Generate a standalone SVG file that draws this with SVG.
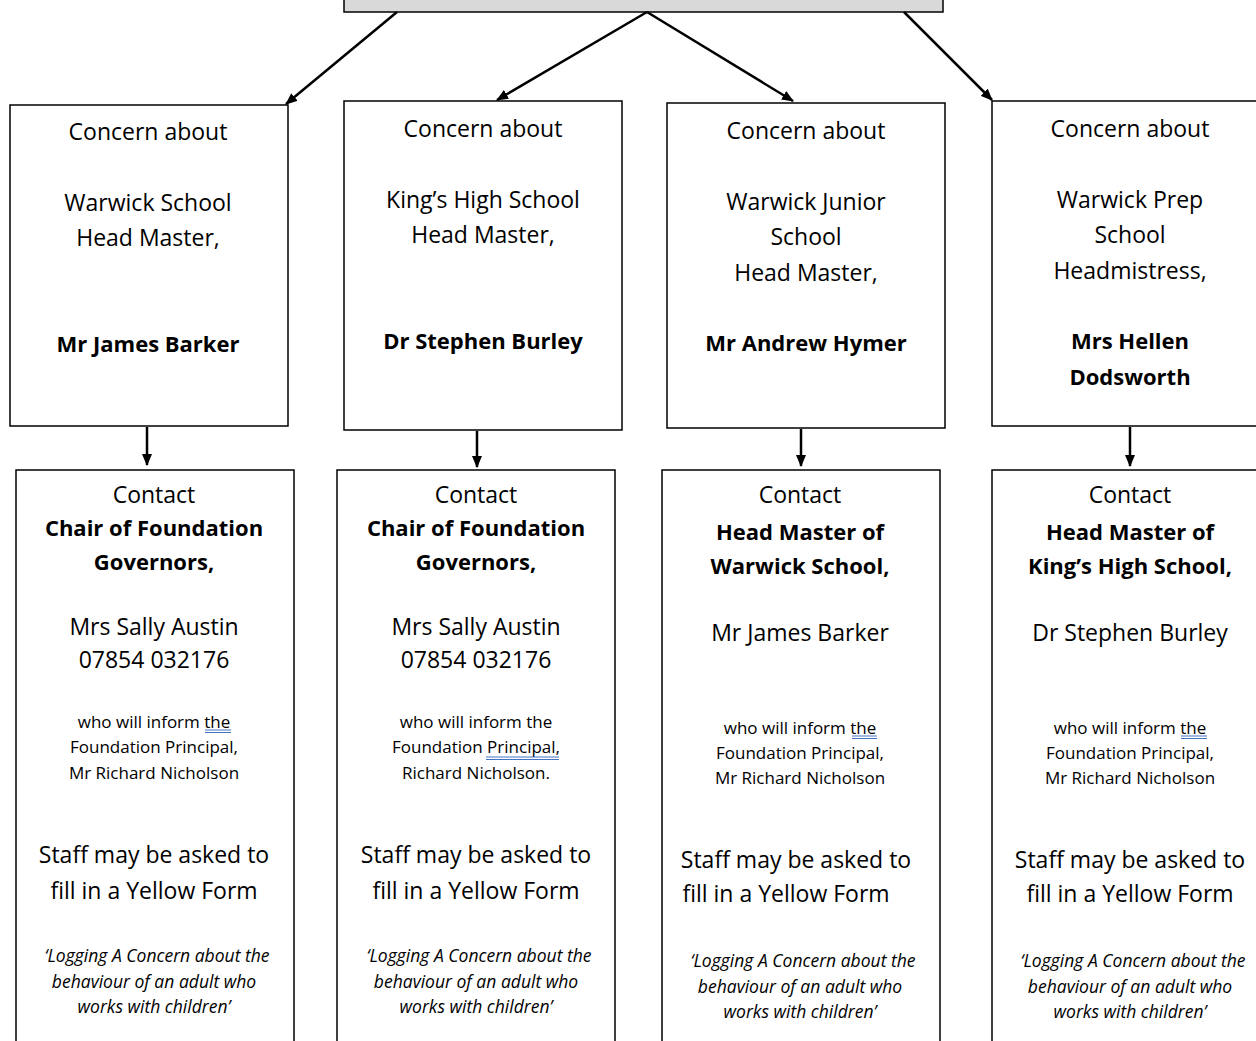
<svg xmlns="http://www.w3.org/2000/svg" width="1256" height="1041" viewBox="0 0 1256 1041">
<defs>
<marker id="ah" viewBox="0 0 12 10" refX="11" refY="5" markerWidth="12" markerHeight="10" markerUnits="userSpaceOnUse" orient="auto">
<path d="M0,0 L12,5 L0,10 z" fill="#000"/>
</marker>
<style>
.box{fill:#fff;stroke:#000;stroke-width:1.5}
.top{fill:#d9d9d9;stroke:#000;stroke-width:1.5}
.conn line{stroke:#000;stroke-width:2.5;marker-end:url(#ah)}
text{font-family:"Open Sans","Noto Sans",sans-serif;fill:#000;text-anchor:middle}
.m{font-size:23px}
.b{font-size:22px;font-weight:bold}
.s{font-size:17px}
.i{font-size:17.5px;font-style:italic}
.sq{stroke:#4472c4;stroke-width:1}
</style>
</defs>
<rect width="1256" height="1041" fill="#fff"/>
<g id="top"><rect class="top" x="344" y="-5" width="599" height="17"/></g>

<g id="c1"><rect class="box" x="10" y="105" width="278" height="321"/>
<text class="m" x="148" y="140">Concern about</text>
<text class="m" x="148" y="211">Warwick School</text>
<text class="m" x="148" y="246">Head Master,</text>
<text class="b" x="148" y="352">Mr James Barker</text></g>

<g id="c2"><rect class="box" x="344" y="101" width="278" height="329"/>
<text class="m" x="483" y="137">Concern about</text>
<text class="m" x="483" y="208">King’s High School</text>
<text class="m" x="483" y="243">Head Master,</text>
<text class="b" x="483" y="349">Dr Stephen Burley</text></g>

<g id="c3"><rect class="box" x="667" y="103" width="278" height="325"/>
<text class="m" x="806" y="139">Concern about</text>
<text class="m" x="806" y="210">Warwick Junior</text>
<text class="m" x="806" y="245">School</text>
<text class="m" x="806" y="281">Head Master,</text>
<text class="b" x="806" y="351">Mr Andrew Hymer</text></g>

<g id="c4"><rect class="box" x="992" y="101" width="278" height="325"/>
<text class="m" x="1130" y="137">Concern about</text>
<text class="m" x="1130" y="208">Warwick Prep</text>
<text class="m" x="1130" y="243">School</text>
<text class="m" x="1130" y="279">Headmistress,</text>
<text class="b" x="1130" y="349">Mrs Hellen</text>
<text class="b" x="1130" y="385">Dodsworth</text></g>

<g id="k1"><rect class="box" x="16" y="470" width="278" height="580"/>
<text class="m" x="154" y="503">Contact</text>
<text class="b" x="154" y="536">Chair of Foundation</text>
<text class="b" x="154" y="570">Governors,</text>
<text class="m" x="154" y="635">Mrs Sally Austin</text>
<text class="m" x="154" y="668">07854 032176</text>
<text class="s" x="154" y="728">who will inform the</text>
<text class="s" x="154" y="753">Foundation Principal,</text>
<text class="s" x="154" y="779">Mr Richard Nicholson</text>
<text class="m" x="154" y="863">Staff may be asked to</text>
<text class="m" x="154" y="899">fill in a Yellow Form</text>
<text class="i" x="157" y="962">‘Logging A Concern about the</text>
<text class="i" x="154" y="988">behaviour of an adult who</text>
<text class="i" x="154" y="1013">works with children’</text>
<line class="sq" x1="205" y1="730" x2="231" y2="730"/><line class="sq" x1="205" y1="732.5" x2="231" y2="732.5"/></g>

<g id="k2"><rect class="box" x="337" y="470" width="278" height="580"/>
<text class="m" x="476" y="503">Contact</text>
<text class="b" x="476" y="536">Chair of Foundation</text>
<text class="b" x="476" y="570">Governors,</text>
<text class="m" x="476" y="635">Mrs Sally Austin</text>
<text class="m" x="476" y="668">07854 032176</text>
<text class="s" x="476" y="728">who will inform the</text>
<text class="s" x="476" y="753">Foundation Principal,</text>
<text class="s" x="476" y="779">Richard Nicholson.</text>
<text class="m" x="476" y="863">Staff may be asked to</text>
<text class="m" x="476" y="899">fill in a Yellow Form</text>
<text class="i" x="479" y="962">‘Logging A Concern about the</text>
<text class="i" x="476" y="988">behaviour of an adult who</text>
<text class="i" x="476" y="1013">works with children’</text>
<line class="sq" x1="486" y1="757" x2="559" y2="757"/><line class="sq" x1="486" y1="759.5" x2="559" y2="759.5"/></g>

<g id="k3"><rect class="box" x="662" y="470" width="278" height="580"/>
<text class="m" x="800" y="503">Contact</text>
<text class="b" x="800" y="540">Head Master of</text>
<text class="b" x="800" y="574">Warwick School,</text>
<text class="m" x="800" y="641">Mr James Barker</text>
<text class="s" x="800" y="734">who will inform the</text>
<text class="s" x="800" y="759">Foundation Principal,</text>
<text class="s" x="800" y="784">Mr Richard Nicholson</text>
<text class="m" x="796" y="868">Staff may be asked to</text>
<text class="m" x="786" y="902">fill in a Yellow Form</text>
<text class="i" x="803" y="967">‘Logging A Concern about the</text>
<text class="i" x="800" y="993">behaviour of an adult who</text>
<text class="i" x="800" y="1018">works with children’</text>
<line class="sq" x1="852" y1="736" x2="877" y2="736"/><line class="sq" x1="852" y1="738.5" x2="877" y2="738.5"/></g>

<g id="k4"><rect class="box" x="992" y="470" width="278" height="580"/>
<text class="m" x="1130" y="503">Contact</text>
<text class="b" x="1130" y="540">Head Master of</text>
<text class="b" x="1130" y="574">King’s High School,</text>
<text class="m" x="1130" y="641">Dr Stephen Burley</text>
<text class="s" x="1130" y="734">who will inform the</text>
<text class="s" x="1130" y="759">Foundation Principal,</text>
<text class="s" x="1130" y="784">Mr Richard Nicholson</text>
<text class="m" x="1130" y="868">Staff may be asked to</text>
<text class="m" x="1130" y="902">fill in a Yellow Form</text>
<text class="i" x="1133" y="967">‘Logging A Concern about the</text>
<text class="i" x="1130" y="993">behaviour of an adult who</text>
<text class="i" x="1130" y="1018">works with children’</text>
<line class="sq" x1="1181" y1="736" x2="1207" y2="736"/><line class="sq" x1="1181" y1="738.5" x2="1207" y2="738.5"/></g>

<g id="connectors" class="conn">
<line x1="397" y1="12" x2="286" y2="104"/>
<line x1="647" y1="12" x2="497" y2="100"/>
<line x1="647" y1="12" x2="793" y2="101"/>
<line x1="904" y1="12" x2="992" y2="100"/>
<line x1="147" y1="427" x2="147" y2="465"/>
<line x1="477" y1="431" x2="477" y2="467"/>
<line x1="801" y1="429" x2="801" y2="466"/>
<line x1="1130" y1="427" x2="1130" y2="466"/>
</g>
</svg>
